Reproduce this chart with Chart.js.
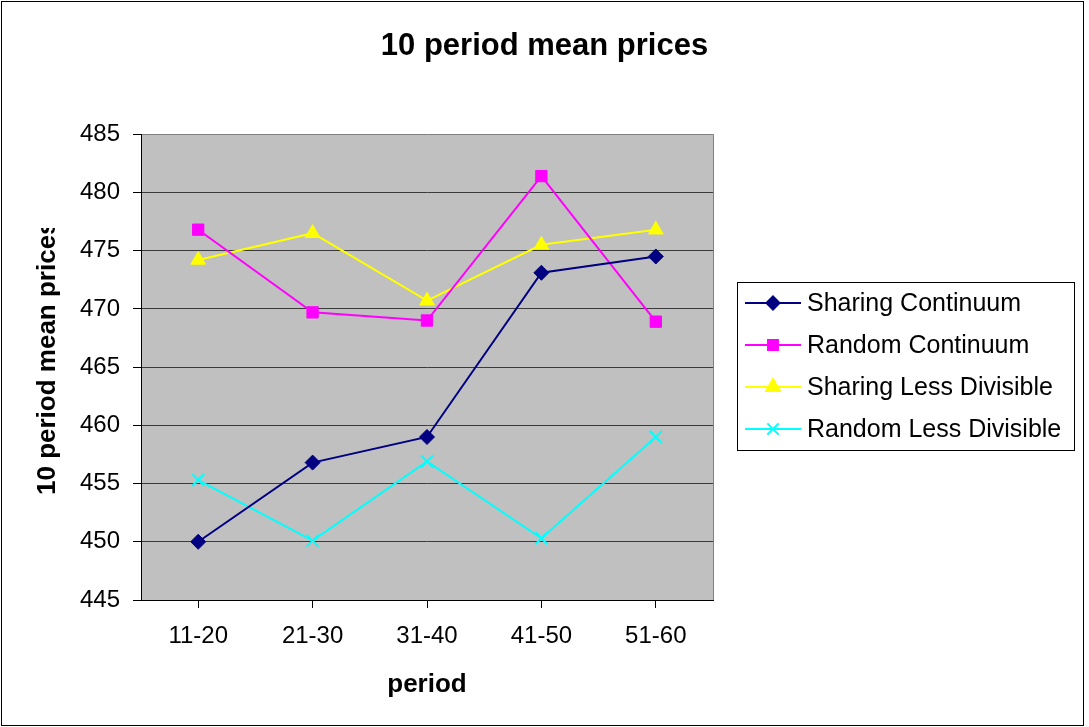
<!DOCTYPE html>
<html>
<head>
<meta charset="utf-8">
<title>10 period mean prices</title>
<script src="https://cdn.jsdelivr.net/npm/chart.js@4/dist/chart.umd.min.js"></script>
<style>
  html, body { margin: 0; padding: 0; background: #ffffff; }
  canvas { display: block; }
</style>
</head>
<body>
<canvas id="c" width="1089" height="727"></canvas>
<script>
// Period blocks on the x axis
const categories = ['11-20', '21-30', '31-40', '41-50', '51-60'];

// Mean price per 10-period block for each treatment
const sharingContinuum     = [450.0, 456.8, 459.0, 473.1, 474.5];
const randomContinuum      = [476.8, 469.7, 469.0, 481.4, 468.9];
const sharingLessDivisible = [474.2, 476.5, 470.7, 475.5, 476.8];
const randomLessDivisible  = [455.3, 450.1, 456.9, 450.3, 459.0];

const seriesNames = ['Sharing Continuum', 'Random Continuum', 'Sharing Less Divisible', 'Random Less Divisible'];

// Value axis range and step
const yMin = 445;
const yMax = 485;
const yStep = 5;

const FONT = "'Liberation Sans', Arial, Helvetica, sans-serif";

// White page, grey plot area, outer frame
const backdrop = {
  id: 'backdrop',
  beforeDraw(chart) {
    const { ctx, chartArea: a } = chart;
    ctx.save();
    ctx.fillStyle = '#ffffff';
    ctx.fillRect(0, 0, chart.width, chart.height);
    ctx.fillStyle = '#c0c0c0';
    ctx.fillRect(a.left, a.top, a.right - a.left, a.bottom - a.top);
    ctx.restore();
  },
  afterDraw(chart) {
    const { ctx, chartArea: a } = chart;
    ctx.save();
    // right edge of the plot area
    ctx.strokeStyle = '#808080';
    ctx.lineWidth = 1;
    ctx.beginPath();
    ctx.moveTo(Math.round(a.right) + 0.5, a.top);
    ctx.lineTo(Math.round(a.right) + 0.5, a.bottom);
    ctx.stroke();
    // frame around the whole chart
    ctx.strokeStyle = '#000000';
    ctx.strokeRect(1.5, 1.5, 1082, 724);
    ctx.restore();
  }
};

// Rotated value-axis title, clipped at the top like the original sheet
const yAxisTitle = {
  id: 'yAxisTitle',
  afterDraw(chart) {
    const { ctx } = chart;
    ctx.save();
    ctx.beginPath();
    ctx.rect(0, 228, 140, 499);
    ctx.clip();
    ctx.translate(55, 495);
    ctx.rotate(-Math.PI / 2);
    ctx.font = 'bold 26px ' + FONT;
    ctx.fillStyle = '#000000';
    ctx.textAlign = 'left';
    ctx.textBaseline = 'alphabetic';
    ctx.fillText('10 period mean prices', 0, 0);
    ctx.restore();
  }
};

// Boxed legend at the right, built from the datasets
const boxLegend = {
  id: 'boxLegend',
  afterDraw(chart) {
    const { ctx } = chart;
    const left = 737, top = 282, right = 1074, bottom = 450;
    ctx.save();
    ctx.fillStyle = '#ffffff';
    ctx.fillRect(left, top, right - left, bottom - top);
    ctx.strokeStyle = '#000000';
    ctx.lineWidth = 1;
    ctx.strokeRect(left + 0.5, top + 0.5, right - left, bottom - top);
    chart.data.datasets.forEach((ds, i) => {
      const y = 303 + i * 42;
      ctx.strokeStyle = ds.borderColor;
      ctx.lineWidth = 2;
      ctx.beginPath();
      ctx.moveTo(745, y);
      ctx.lineTo(801, y);
      ctx.stroke();
      ctx.fillStyle = ds.pointBackgroundColor;
      ctx.strokeStyle = ds.pointBorderColor;
      Chart.helpers.drawPoint(ctx, {
        pointStyle: ds.pointStyle,
        radius: ds.legendRadius,
        rotation: 0,
        borderWidth: ds.pointBorderWidth
      }, 773, y);
      ctx.fillStyle = '#000000';
      ctx.font = '25px ' + FONT;
      ctx.textAlign = 'left';
      ctx.textBaseline = 'middle';
      ctx.fillText(ds.label, 807, y + 1);
    });
    ctx.restore();
  }
};

function series(label, data, color, style, radius, legendRadius) {
  return {
    label: label,
    data: data,
    borderColor: color,
    backgroundColor: color,
    borderWidth: 2,
    pointStyle: style,
    pointRadius: radius,
    pointHoverRadius: radius,
    pointBackgroundColor: color,
    pointBorderColor: color,
    pointBorderWidth: style === 'crossRot' ? 2 : 1,
    legendRadius: legendRadius,
    tension: 0,
    fill: false
  };
}

new Chart(document.getElementById('c'), {
  type: 'line',
  data: {
    labels: categories,
    datasets: [
      series(seriesNames[0], sharingContinuum, '#000080', 'rectRot', 7.5, 6.5),
      series(seriesNames[1], randomContinuum, '#ff00ff', 'rect', 8, 7),
      series(seriesNames[2], sharingLessDivisible, '#ffff00', 'triangle', 8.5, 8),
      series(seriesNames[3], randomLessDivisible, '#00ffff', 'crossRot', 8.5, 8)
    ]
  },
  options: {
    responsive: false,
    animation: false,
    devicePixelRatio: 1,
    layout: { padding: 0 },
    plugins: {
      legend: { display: false },
      tooltip: { enabled: false },
      title: {
        display: true,
        text: '10 period mean prices',
        color: '#000000',
        font: { family: FONT, size: 31, weight: 'bold' },
        padding: { top: 28, bottom: 69 }
      }
    },
    scales: {
      x: {
        type: 'category',
        offset: true,
        afterFit(scale) { scale.height = 127; },
        grid: {
          display: true,
          drawOnChartArea: false,
          drawTicks: true,
          tickLength: 8,
          color: '#000000',
          lineWidth: 1
        },
        border: { display: true, color: '#000000', width: 1 },
        ticks: {
          color: '#000000',
          padding: 14,
          maxRotation: 0,
          font: { family: FONT, size: 24 }
        },
        title: {
          display: true,
          text: 'period',
          color: '#000000',
          font: { family: FONT, size: 26, weight: 'bold' },
          padding: { top: 0, bottom: 27 }
        }
      },
      y: {
        min: yMin,
        max: yMax,
        afterFit(scale) { scale.width = 141; },
        grid: {
          drawTicks: true,
          tickLength: 8,
          color: (c) => (c.tick && c.tick.value === yMax) ? '#808080' : '#3a3a3a',
          tickColor: '#000000',
          lineWidth: 1
        },
        border: { display: true, color: '#000000', width: 1 },
        ticks: {
          stepSize: yStep,
          color: '#000000',
          padding: 13,
          font: { family: FONT, size: 24 }
        }
      },
      // empty band on the right that holds the legend box
      legendBand: {
        type: 'linear',
        position: 'right',
        display: true,
        afterFit(scale) { scale.width = 376; },
        grid: { display: false, drawOnChartArea: false },
        border: { display: false },
        ticks: { display: false }
      }
    }
  },
  plugins: [backdrop, yAxisTitle, boxLegend]
});
</script>
</body>
</html>
